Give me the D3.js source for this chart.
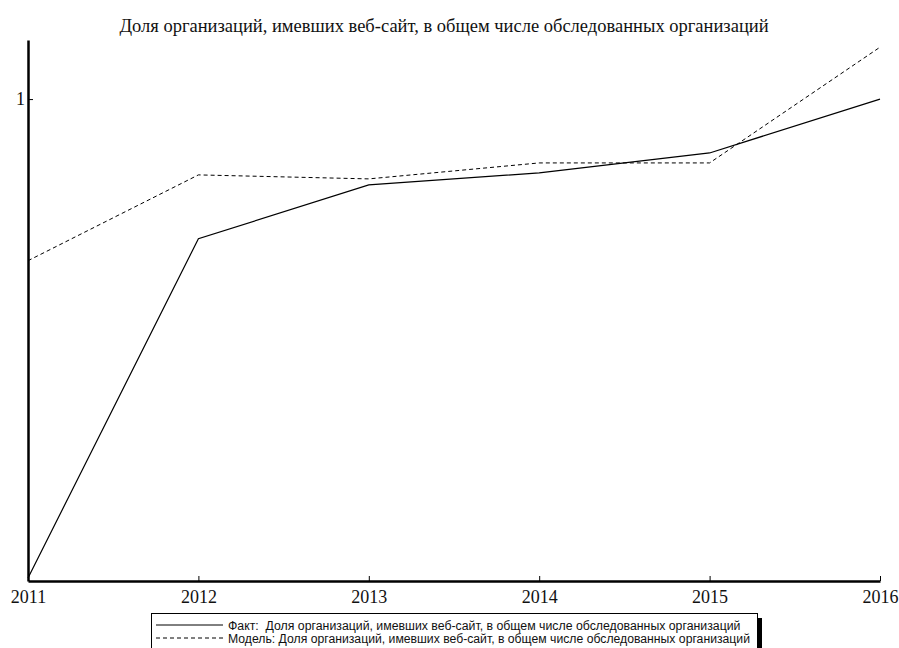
<!DOCTYPE html>
<html>
<head>
<meta charset="utf-8">
<script src="https://cdn.jsdelivr.net/npm/d3@7"></script>
<style>
  html, body { margin: 0; padding: 0; background: #fff; }
  svg { display: block; }
</style>
</head>
<body>
<svg id="chart" width="899" height="648"></svg>
<script>
// Доля организаций, имевших веб-сайт (нормированные значения)
const years = [2011, 2012, 2013, 2014, 2015, 2016];
const factValues = [0.760, 0.930, 0.957, 0.963, 0.973, 1.000];
const modelValues = [0.919, 0.962, 0.960, 0.968, 0.968, 1.026];
const yTickValues = [1];

const titleText = "Доля организаций, имевших веб-сайт, в общем числе обследованных организаций";
const seriesNames = ["Факт:  Доля организаций, имевших веб-сайт, в общем числе обследованных организаций",
                     "Модель: Доля организаций, имевших веб-сайт, в общем числе обследованных организаций"];

const svg = d3.select("#chart");
const W = 899, H = 648;
svg.append("rect").attr("width", W).attr("height", H).attr("fill", "#fff");

const x = d3.scaleLinear().domain([2011, 2016]).range([28, 880]);
const y = d3.scaleLinear().domain([0.7585, 1.0296]).range([581, 40]);

// title
svg.append("text")
  .attr("x", 444).attr("y", 32)
  .attr("text-anchor", "middle")
  .attr("font-family", "Liberation Serif, Times New Roman, serif")
  .attr("font-size", 18.5)
  .attr("fill", "#111")
  .text(titleText);

// axes
const xAxis = d3.axisBottom(x).tickValues(years).tickFormat(d3.format("d"))
  .tickSizeInner(-5).tickSizeOuter(0).tickPadding(9);
const yAxis = d3.axisLeft(y).tickValues(yTickValues).tickFormat(d3.format("d"))
  .tickSizeInner(-5).tickSizeOuter(0).tickPadding(3);

const gx = svg.append("g").attr("transform", "translate(0,581)").call(xAxis);
const gy = svg.append("g").attr("transform", "translate(28,0)").call(yAxis);
[gx, gy].forEach(g => {
  g.select(".domain").attr("stroke", "#000").attr("stroke-width", 2.5);
  g.selectAll(".tick line").attr("stroke", "#000").attr("stroke-width", 1);
  g.selectAll(".tick text")
    .attr("font-family", "Liberation Serif, Times New Roman, serif")
    .attr("font-size", 18).attr("fill", "#111");
});

// series
const line = d3.line().x((d, i) => x(years[i])).y(d => y(d));
svg.append("path").datum(modelValues)
  .attr("d", line).attr("fill", "none")
  .attr("stroke", "#000").attr("stroke-width", 1)
  .attr("stroke-dasharray", "4,3");
svg.append("path").datum(factValues)
  .attr("d", line).attr("fill", "none")
  .attr("stroke", "#000").attr("stroke-width", 1.2);

// legend
const lg = svg.append("g");
lg.append("rect").attr("x", 151.5).attr("y", 613.5).attr("width", 606).attr("height", 45)
  .attr("fill", "#fff").attr("stroke", "#000").attr("stroke-width", 1);
lg.append("rect").attr("x", 757).attr("y", 618).attr("width", 5).attr("height", 40).attr("fill", "#000");
const rows = [{dash: null, y: 625, len: null}, {dash: "4,3", y: 638, len: 522}];
rows.forEach((r, i) => {
  lg.append("line").attr("x1", 156).attr("x2", 223).attr("y1", r.y).attr("y2", r.y)
    .attr("stroke", "#000").attr("stroke-width", 1)
    .attr("stroke-dasharray", r.dash);
  const t = lg.append("text").attr("x", 228).attr("y", r.y + 4.5)
    .attr("font-family", "Liberation Sans, Arial, sans-serif")
    .attr("font-size", 12.3).attr("fill", "#111")
    .style("white-space", "pre")
    .text(seriesNames[i]);
  if (r.len) t.attr("textLength", r.len).attr("lengthAdjust", "spacingAndGlyphs");
});
</script>
</body>
</html>
